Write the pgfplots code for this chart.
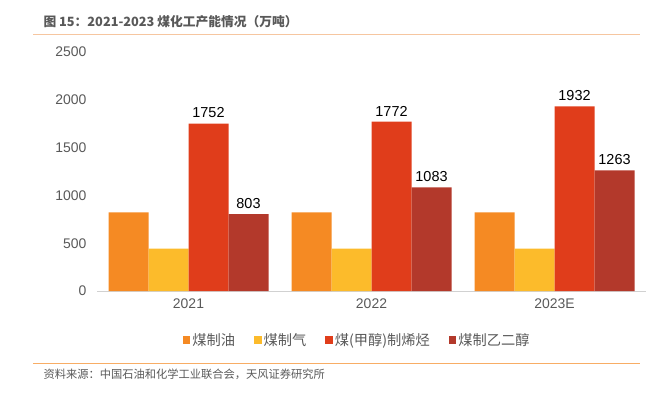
\documentclass[border=0pt]{standalone}
\usepackage{fontspec}
\setmainfont{Liberation Sans}
\newfontfamily\cjk{Noto Sans CJK SC}
\usepackage{pgfplots}
\pgfplotsset{compat=1.18}
\definecolor{coil}{HTML}{F58A23}
\definecolor{cgas}{HTML}{FCBB2B}
\definecolor{colef}{HTML}{E03D1B}
\definecolor{cgly}{HTML}{B3392B}
\definecolor{tgray}{HTML}{595959}
\definecolor{lorange}{HTML}{F6C6A0}
\begin{document}
\begin{tikzpicture}[x=1bp,y=1bp]
\path[use as bounding box] (0,0) rectangle (655,399);
\node[anchor=west,text=tgray,font=\cjk\bfseries\fontsize{12.8}{14}\selectfont] at (40,377) {图 15：2021-2023 煤化工产能情况（万吨）};
\draw[lorange,line width=0.8bp] (33,365) -- (640,365);
\draw[coil!70!white,line width=1bp] (33,36) -- (640,36);
\node[anchor=west,text=tgray,font=\cjk\fontsize{11.3}{13}\selectfont] at (40,25) {资料来源：中国石油和化学工业联合会，天风证券研究所};
\begin{axis}[
  at={(97bp,108bp)}, anchor=south west,
  scale only axis, width=549bp, height=239bp,
  xmin=-0.5, xmax=2.5, ymin=0, ymax=2500,
  ybar=0pt, bar width=40bp,
  xtick={0,1,2}, xticklabels={2021,2022,2023E},
  ytick={0,500,1000,1500,2000,2500},
  axis y line*=left, axis x line*=bottom,
  y axis line style={draw=none},
  x axis line style={draw=black!18, line width=0.8bp, -},
  major tick length=0pt,
  tick style={draw=none},
  yticklabel style={text=tgray, font=\fontsize{14}{16}\selectfont, xshift=-7bp},
  xticklabel style={text=tgray, font=\fontsize{14}{16}\selectfont, yshift=-4bp},
  /pgf/number format/assume math mode=true,
  /pgf/number format/1000 sep={},
  legend style={at={(0.474,-0.205)}, anchor=center, draw=none, fill=none,
    legend columns=4, font=\cjk\fontsize{14.3}{16}\selectfont, text=tgray,
    /tikz/every even column/.append style={column sep=17bp}},
  legend image code/.code={\fill[#1] (1bp,-3.5bp) rectangle (8.5bp,4bp);},
  clip=false,
]
\addplot[fill=coil, draw=none] coordinates {(0,823) (1,823) (2,823)};
\addplot[fill=cgas, draw=none] coordinates {(0,444) (1,444) (2,444)};
\addplot[fill=colef, draw=none, nodes near coords, nodes near coords style={text=black, font=\fontsize{14.5}{16}\selectfont, yshift=2bp}] coordinates {(0,1752) (1,1772) (2,1932)};
\addplot[fill=cgly, draw=none, nodes near coords, nodes near coords style={text=black, font=\fontsize{14.5}{16}\selectfont, yshift=2bp}] coordinates {(0,803) (1,1083) (2,1263)};
\legend{煤制油,煤制气,煤(甲醇)制烯烃,煤制乙二醇}
\end{axis}
\end{tikzpicture}
\end{document}
